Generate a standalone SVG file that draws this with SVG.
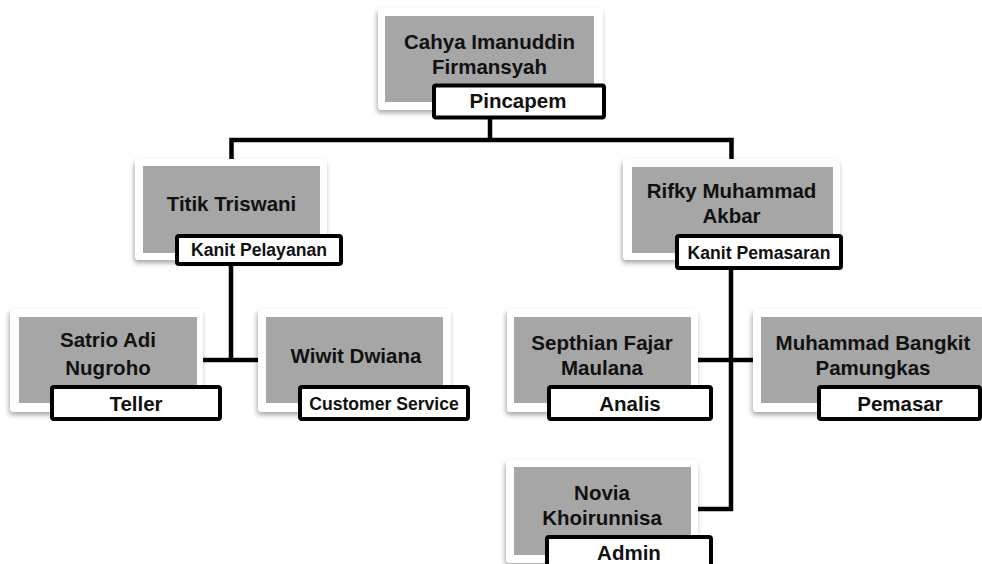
<svg xmlns="http://www.w3.org/2000/svg" width="982" height="564" viewBox="0 0 982 564">
<defs>
<filter id="sh" x="-10%" y="-10%" width="120%" height="130%">
<feDropShadow dx="-1" dy="3" stdDeviation="2.5" flood-color="#000" flood-opacity="0.35"/>
</filter>
</defs>
<style>
.card{fill:#fff;filter:url(#sh)}
.pic{fill:#a6a6a6}
.lbl{fill:#fff;stroke:#000;stroke-width:4}
.nm{font-family:"Liberation Sans",Arial,sans-serif;font-weight:bold;font-size:20.5px;fill:#111;text-anchor:middle}
.sm{font-size:17.6px}
.conn{fill:none;stroke:#000;stroke-width:4.5}
</style>
<g id="connectors">
<path class="conn" d="M490,118 V140"/>
<path class="conn" d="M231.5,160 V140 H731.5 V160"/>
<path class="conn" d="M231,262 V360"/>
<path class="conn" d="M203,360 H259"/>
<path class="conn" d="M731,268 V509 H697"/>
<path class="conn" d="M697,360 H754"/>
</g>
<g id="n-cahya">
<rect class="card" x="378" y="8" width="225" height="102" rx="4"/>
<rect class="pic" x="385" y="16" width="209" height="86"/>
<text class="nm" x="489.5" y="49">Cahya Imanuddin</text>
<text class="nm" x="489.5" y="74">Firmansyah</text>
<rect class="lbl" x="434" y="85.5" width="170" height="32" rx="2"/>
<text class="nm" x="518" y="108">Pincapem</text>
</g>
<g id="n-titik">
<rect class="card" x="135" y="159" width="192" height="101" rx="4"/>
<rect class="pic" x="143" y="166" width="177" height="87"/>
<text class="nm" x="231.5" y="211">Titik Triswani</text>
<rect class="lbl" x="177" y="236" width="164" height="28" rx="2"/>
<text class="nm sm" x="259" y="256">Kanit Pelayanan</text>
</g>
<g id="n-rifky">
<rect class="card" x="623" y="159" width="217" height="101" rx="4"/>
<rect class="pic" x="632" y="167" width="201" height="86"/>
<text class="nm" x="731.5" y="198">Rifky Muhammad</text>
<text class="nm" x="731.5" y="223">Akbar</text>
<rect class="lbl" x="677" y="236" width="164" height="32" rx="2"/>
<text class="nm sm" x="759" y="259">Kanit Pemasaran</text>
</g>
<g id="n-satrio">
<rect class="card" x="10" y="309" width="193" height="103" rx="4"/>
<rect class="pic" x="19" y="317" width="178" height="86"/>
<text class="nm" x="108" y="347">Satrio Adi</text>
<text class="nm" x="108" y="375">Nugroho</text>
<rect class="lbl" x="52" y="387" width="168" height="32" rx="2"/>
<text class="nm" x="136" y="411">Teller</text>
</g>
<g id="n-wiwit">
<rect class="card" x="258" y="309" width="193" height="103" rx="4"/>
<rect class="pic" x="266" y="317" width="177" height="86"/>
<text class="nm" x="356" y="363">Wiwit Dwiana</text>
<rect class="lbl" x="300" y="387" width="168" height="32" rx="2"/>
<text class="nm sm" x="384" y="410">Customer Service</text>
</g>
<g id="n-septhian">
<rect class="card" x="507" y="309" width="191" height="103" rx="4"/>
<rect class="pic" x="514" y="317" width="177" height="86"/>
<text class="nm" x="602" y="350">Septhian Fajar</text>
<text class="nm" x="602" y="375">Maulana</text>
<rect class="lbl" x="549" y="387" width="162" height="32" rx="2"/>
<text class="nm" x="630" y="411">Analis</text>
</g>
<g id="n-muhammad">
<rect class="card" x="753" y="309" width="240" height="103" rx="4"/>
<rect class="pic" x="761" y="317" width="224" height="86"/>
<text class="nm" x="873" y="350">Muhammad Bangkit</text>
<text class="nm" x="873" y="375">Pamungkas</text>
<rect class="lbl" x="819" y="387" width="161" height="32" rx="2"/>
<text class="nm" x="900" y="411">Pemasar</text>
</g>
<g id="n-novia">
<rect class="card" x="506" y="460" width="192" height="103" rx="4"/>
<rect class="pic" x="514" y="467" width="177" height="88"/>
<text class="nm" x="602" y="500">Novia</text>
<text class="nm" x="602" y="525">Khoirunnisa</text>
<rect class="lbl" x="547" y="537" width="164" height="32" rx="2"/>
<text class="nm" x="629" y="560">Admin</text>
</g>
</svg>
